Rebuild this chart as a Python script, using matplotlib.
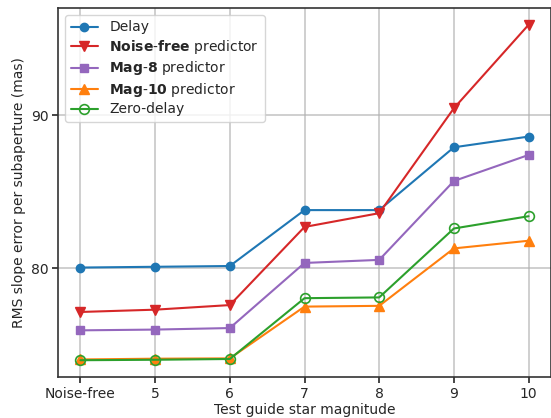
import matplotlib
matplotlib.use('Agg')
import matplotlib.pyplot as plt
from matplotlib.ticker import MultipleLocator
import seaborn as sns

# data
x_labels = ['Noise-free', '5', '6', '7', '8', '9', '10']
delay = [80.05, 80.1, 80.15, 83.8, 83.8, 87.9, 88.6]
noise_free_pred = [77.15, 77.3, 77.6, 82.7, 83.6, 90.45, 95.9]
mag8_pred = [75.95, 76.0, 76.1, 80.35, 80.55, 85.7, 87.4]
mag10_pred = [74.05, 74.1, 74.12, 77.5, 77.55, 81.3, 81.8]
zero_delay = [74.0, 74.03, 74.08, 78.05, 78.1, 82.6, 83.4]

sns.set_style('ticks')
plt.rcParams['font.family'] = ['DejaVu Sans']
plt.rcParams['mathtext.fontset'] = 'dejavusans'

fig = plt.figure(figsize=(5.51, 4.18), dpi=100)
ax = fig.add_axes([0.1053, 0.0981, 0.8947, 0.8828])

xs = range(len(x_labels))
ax.plot(xs, delay, '-o', color='#1f77b4', lw=1.5, ms=6, label='Delay')
ax.plot(xs, noise_free_pred, '-v', color='#d62728', lw=1.5, ms=6.5,
        label=r'$\bf{Noise}$-$\bf{free}$ predictor')
ax.plot(xs, mag8_pred, '-s', color='#9467bd', lw=1.5, ms=6,
        label=r'$\bf{Mag}$-$\bf{8}$ predictor')
ax.plot(xs, mag10_pred, '-^', color='#ff7f0e', lw=1.5, ms=6.5,
        label=r'$\bf{Mag}$-$\bf{10}$ predictor')
ax.plot(xs, zero_delay, '-o', color='#2ca02c', lw=1.5, ms=7, mfc='none',
        mew=1.2, label='Zero-delay')

ax.set_xticks(list(xs))
ax.set_xticklabels(x_labels)
ax.yaxis.set_major_locator(MultipleLocator(10))
ax.grid(True, color='#b0b0b0', lw=1.2, alpha=0.7)
ax.set_axisbelow(True)

for s in ax.spines.values():
    s.set_color('#333333')
    s.set_linewidth(1.2)
ax.tick_params(labelsize=10, colors='#262626', width=1.2, length=4, pad=3.5)
ax.tick_params(axis='y', pad=2.5)

ax.set_xlabel('Test guide star magnitude', fontsize=10, color='#262626', labelpad=1)
ax.set_ylabel('RMS slope error per subaperture (mas)', fontsize=10, color='#262626')

ax.legend(loc='upper left', fontsize=10, framealpha=0.8, labelspacing=0.25,
          borderpad=0.4)

plt.savefig('out.png', dpi=100)
